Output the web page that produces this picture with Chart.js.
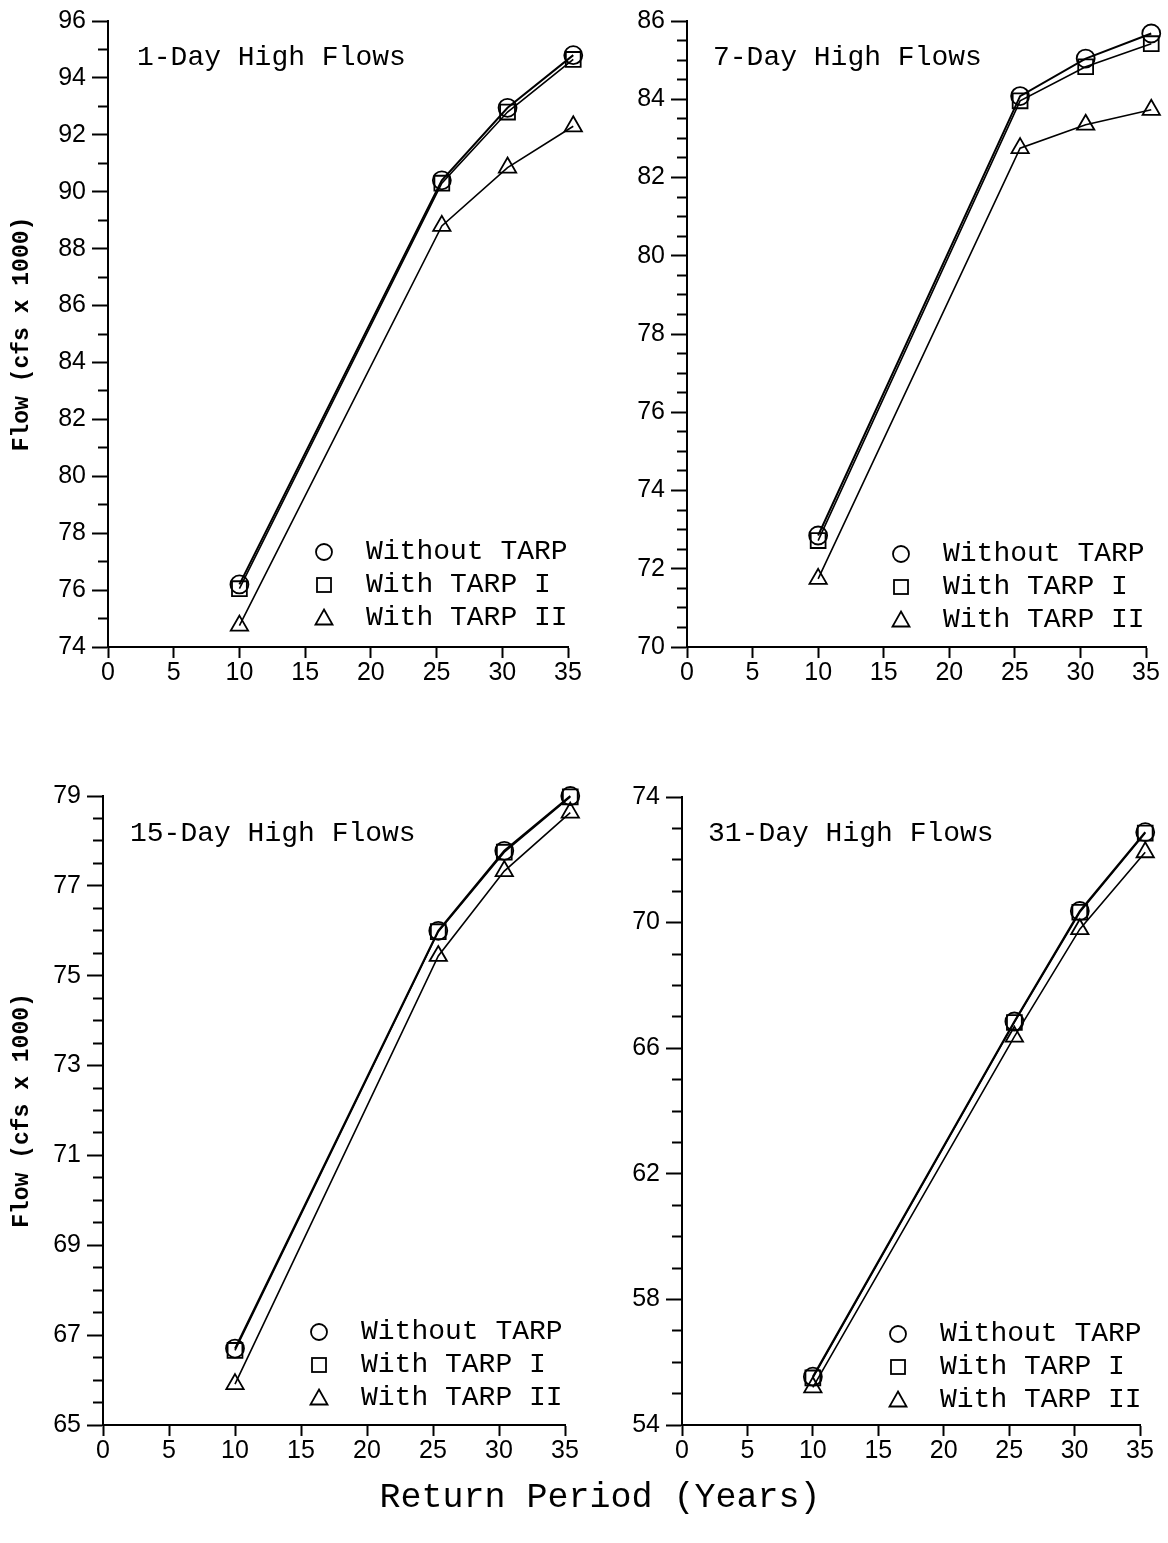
<!DOCTYPE html>
<html>
<head>
<meta charset="utf-8">
<script src="https://cdn.jsdelivr.net/npm/chart.js@4.4.1/dist/chart.umd.min.js"></script>
<style>
  html, body { margin: 0; padding: 0; background: #fff; }
  body { width: 1168px; height: 1543px; position: relative; overflow: hidden; }
  canvas { position: absolute; }
  .ptitle { position: absolute; font-family: "Liberation Mono", monospace; font-size: 28px; line-height: 28px; color: #000; white-space: pre; }
  .legend { position: absolute; font-family: "Liberation Mono", monospace; font-size: 28px; color: #000; }
  .legend .row { height: 33px; display: flex; align-items: center; white-space: pre; }
  .legend svg { width: 24px; height: 24px; margin-right: 30px; }
  .xtitle { position: absolute; left: 0; width: 1200px; text-align: center; font-family: "Liberation Mono", monospace; font-size: 35px; color: #000; white-space: pre; }
</style>
</head>
<body>
<canvas id="c1" width="600" height="720" style="left:0px;top:0px;"></canvas>
<canvas id="c2" width="588" height="720" style="left:580px;top:0px;"></canvas>
<canvas id="c3" width="600" height="740" style="left:0px;top:760px;"></canvas>
<canvas id="c4" width="588" height="740" style="left:580px;top:760px;"></canvas>
<div id="overlay"></div>
<script>
// ---- data ----
const returnPeriods = [10, 25.4, 30.4, 35.4];
const seriesNames = ['Without TARP', 'With TARP I', 'With TARP II'];
const panelTitles = ['1-Day High Flows', '7-Day High Flows', '15-Day High Flows', '31-Day High Flows'];
const xTickLabels = ['0', '5', '10', '15', '20', '25', '30', '35'];
const yAxisTitle = 'Flow (cfs x 1000)';
const xAxisTitle = 'Return Period (Years)';

const flow1DayWithout = [76.2, 90.4, 92.95, 94.8];
const flow1DayTarpI   = [76.05, 90.3, 92.8, 94.65];
const flow1DayTarpII  = [74.75, 88.8, 90.85, 92.3];

const flow7DayWithout = [72.85, 84.08, 85.04, 85.68];
const flow7DayTarpI   = [72.72, 83.96, 84.83, 85.42];
const flow7DayTarpII  = [71.74, 82.75, 83.35, 83.73];

const flow15DayWithout = [66.7, 76.0, 77.78, 79.0];
const flow15DayTarpI   = [66.66, 75.98, 77.75, 78.98];
const flow15DayTarpII  = [65.91, 75.44, 77.33, 78.63];

const flow31DayWithout = [55.54, 66.85, 70.37, 72.88];
const flow31DayTarpI   = [55.5, 66.82, 70.33, 72.85];
const flow31DayTarpII  = [55.2, 66.37, 69.79, 72.24];

const yMins = [74, 70, 65, 54];
const yMaxs = [96, 86, 79, 74];
const yMajorSteps = [2, 2, 2, 4];
const yMinorSteps = [1, 0.5, 0.5, 1];

// ---- layout (page pixels) ----
const panels = [
  { id: 'c1', cx: 0,   cy: 0,   cw: 600, ch: 720, L: 108, R: 568,  T: 21,  B: 647,  showYTitle: true,
    series: [flow1DayWithout, flow1DayTarpI, flow1DayTarpII],
    title: { x: 137, y: 44 }, legend: { x: 312, y: 535 } },
  { id: 'c2', cx: 580, cy: 0,   cw: 588, ch: 720, L: 687, R: 1146, T: 21,  B: 647,  showYTitle: false,
    series: [flow7DayWithout, flow7DayTarpI, flow7DayTarpII],
    title: { x: 713, y: 44 }, legend: { x: 889, y: 537 } },
  { id: 'c3', cx: 0,   cy: 760, cw: 600, ch: 740, L: 103, R: 565,  T: 796, B: 1425, showYTitle: true,
    series: [flow15DayWithout, flow15DayTarpI, flow15DayTarpII],
    title: { x: 130, y: 820 }, legend: { x: 307, y: 1315 } },
  { id: 'c4', cx: 580, cy: 760, cw: 588, ch: 740, L: 682, R: 1140, T: 797, B: 1425, showYTitle: false,
    series: [flow31DayWithout, flow31DayTarpI, flow31DayTarpII],
    title: { x: 708, y: 820 }, legend: { x: 886, y: 1317 } }
];

const pointStyles = ['circle', 'rect', 'triangle'];
const pointRadii = [9, 10.5, 10];
const tickFont = { family: '"Liberation Sans", Arial, sans-serif', size: 25 };
const MAJOR_LEN = 16, MINOR_LEN = 10;

function isMajor(v, base, step) {
  const r = (v - base) / step;
  return Math.abs(r - Math.round(r)) < 1e-6;
}

panels.forEach((p, idx) => {
  const datasets = p.series.map((vals, s) => ({
    label: seriesNames[s],
    data: returnPeriods.map((x, i) => ({ x: x, y: vals[i] })),
    borderColor: '#000',
    borderWidth: s === 0 ? 2 : 1.6,
    pointStyle: pointStyles[s],
    pointRadius: pointRadii[s],
    pointBorderWidth: 1.8,
    pointBorderColor: '#000',
    pointBackgroundColor: 'rgba(255,255,255,0)',
    fill: false,
    tension: 0,
    clip: false
  }));

  const majorStep = yMajorSteps[idx];
  const base = yMins[idx];
  const minor = (ctx) => ctx.tick && !isMajor(ctx.tick.value, base, majorStep);
  new Chart(document.getElementById(p.id), {
    type: 'line',
    data: { datasets },
    options: {
      responsive: false,
      animation: false,
      devicePixelRatio: 1,
      events: [],
      layout: { padding: { left: 0, top: p.T - p.cy, right: (p.cx + p.cw) - p.R, bottom: 0 } },
      plugins: { legend: { display: false }, tooltip: { enabled: false }, title: { display: false } },
      scales: {
        x: {
          type: 'linear', position: 'bottom', min: 0, max: 35,
          ticks: {
            stepSize: 5, autoSkip: false, maxRotation: 0, color: '#000', font: tickFont, padding: 0,
            callback: (v, i) => xTickLabels[i]
          },
          grid: { display: true, drawOnChartArea: false, drawTicks: true, tickLength: 11, tickWidth: 2, tickColor: '#000' },
          border: { display: true, color: '#000', width: 2 },
          afterFit: (s) => { s.height = (p.cy + p.ch) - p.B; }
        },
        y: {
          type: 'linear', position: 'left', min: yMins[idx], max: yMaxs[idx],
          ticks: {
            stepSize: yMinorSteps[idx], autoSkip: false, color: '#000', font: tickFont, padding: 6,
            callback: (v) => isMajor(v, base, majorStep) ? String(v) : ''
          },
          grid: {
            display: true, drawOnChartArea: false, drawTicks: true, tickLength: MAJOR_LEN, tickWidth: 2, tickColor: '#000',
            tickBorderDash: (ctx) => minor(ctx) ? [MINOR_LEN, MAJOR_LEN - MINOR_LEN] : [],
            tickBorderDashOffset: (ctx) => minor(ctx) ? MINOR_LEN : 0
          },
          border: { display: true, color: '#000', width: 2 },
          title: {
            display: p.showYTitle, text: yAxisTitle, color: '#000',
            font: { family: '"Liberation Mono", monospace', size: 23, weight: 'bold' },
            padding: { top: 8, bottom: 0 }
          },
          afterFit: (s) => { s.width = p.L - p.cx; }
        }
      }
    }
  });
});

// ---- overlay texts: panel titles, legends, common x-axis title ----
const overlay = document.getElementById('overlay');
const markerSvgs = [
  '<svg viewBox="0 0 24 24"><circle cx="12" cy="12" r="8" fill="none" stroke="#000" stroke-width="1.8"/></svg>',
  '<svg viewBox="0 0 24 24"><rect x="5" y="5" width="14" height="14" fill="none" stroke="#000" stroke-width="1.8"/></svg>',
  '<svg viewBox="0 0 24 24"><polygon points="12,3.5 20.5,18.5 3.5,18.5" fill="none" stroke="#000" stroke-width="1.8"/></svg>'
];
panels.forEach((p, idx) => {
  const t = document.createElement('div');
  t.className = 'ptitle';
  t.style.left = p.title.x + 'px';
  t.style.top = p.title.y + 'px';
  t.textContent = panelTitles[idx];
  overlay.appendChild(t);

  const lg = document.createElement('div');
  lg.className = 'legend';
  lg.style.left = p.legend.x + 'px';
  lg.style.top = p.legend.y + 'px';
  seriesNames.forEach((name, s) => {
    const row = document.createElement('div');
    row.className = 'row';
    row.innerHTML = markerSvgs[s];
    const span = document.createElement('span');
    span.textContent = name;
    row.appendChild(span);
    lg.appendChild(row);
  });
  overlay.appendChild(lg);
});
const xt = document.createElement('div');
xt.className = 'xtitle';
xt.style.top = '1478px';
xt.textContent = xAxisTitle;
overlay.appendChild(xt);
</script>
</body>
</html>
